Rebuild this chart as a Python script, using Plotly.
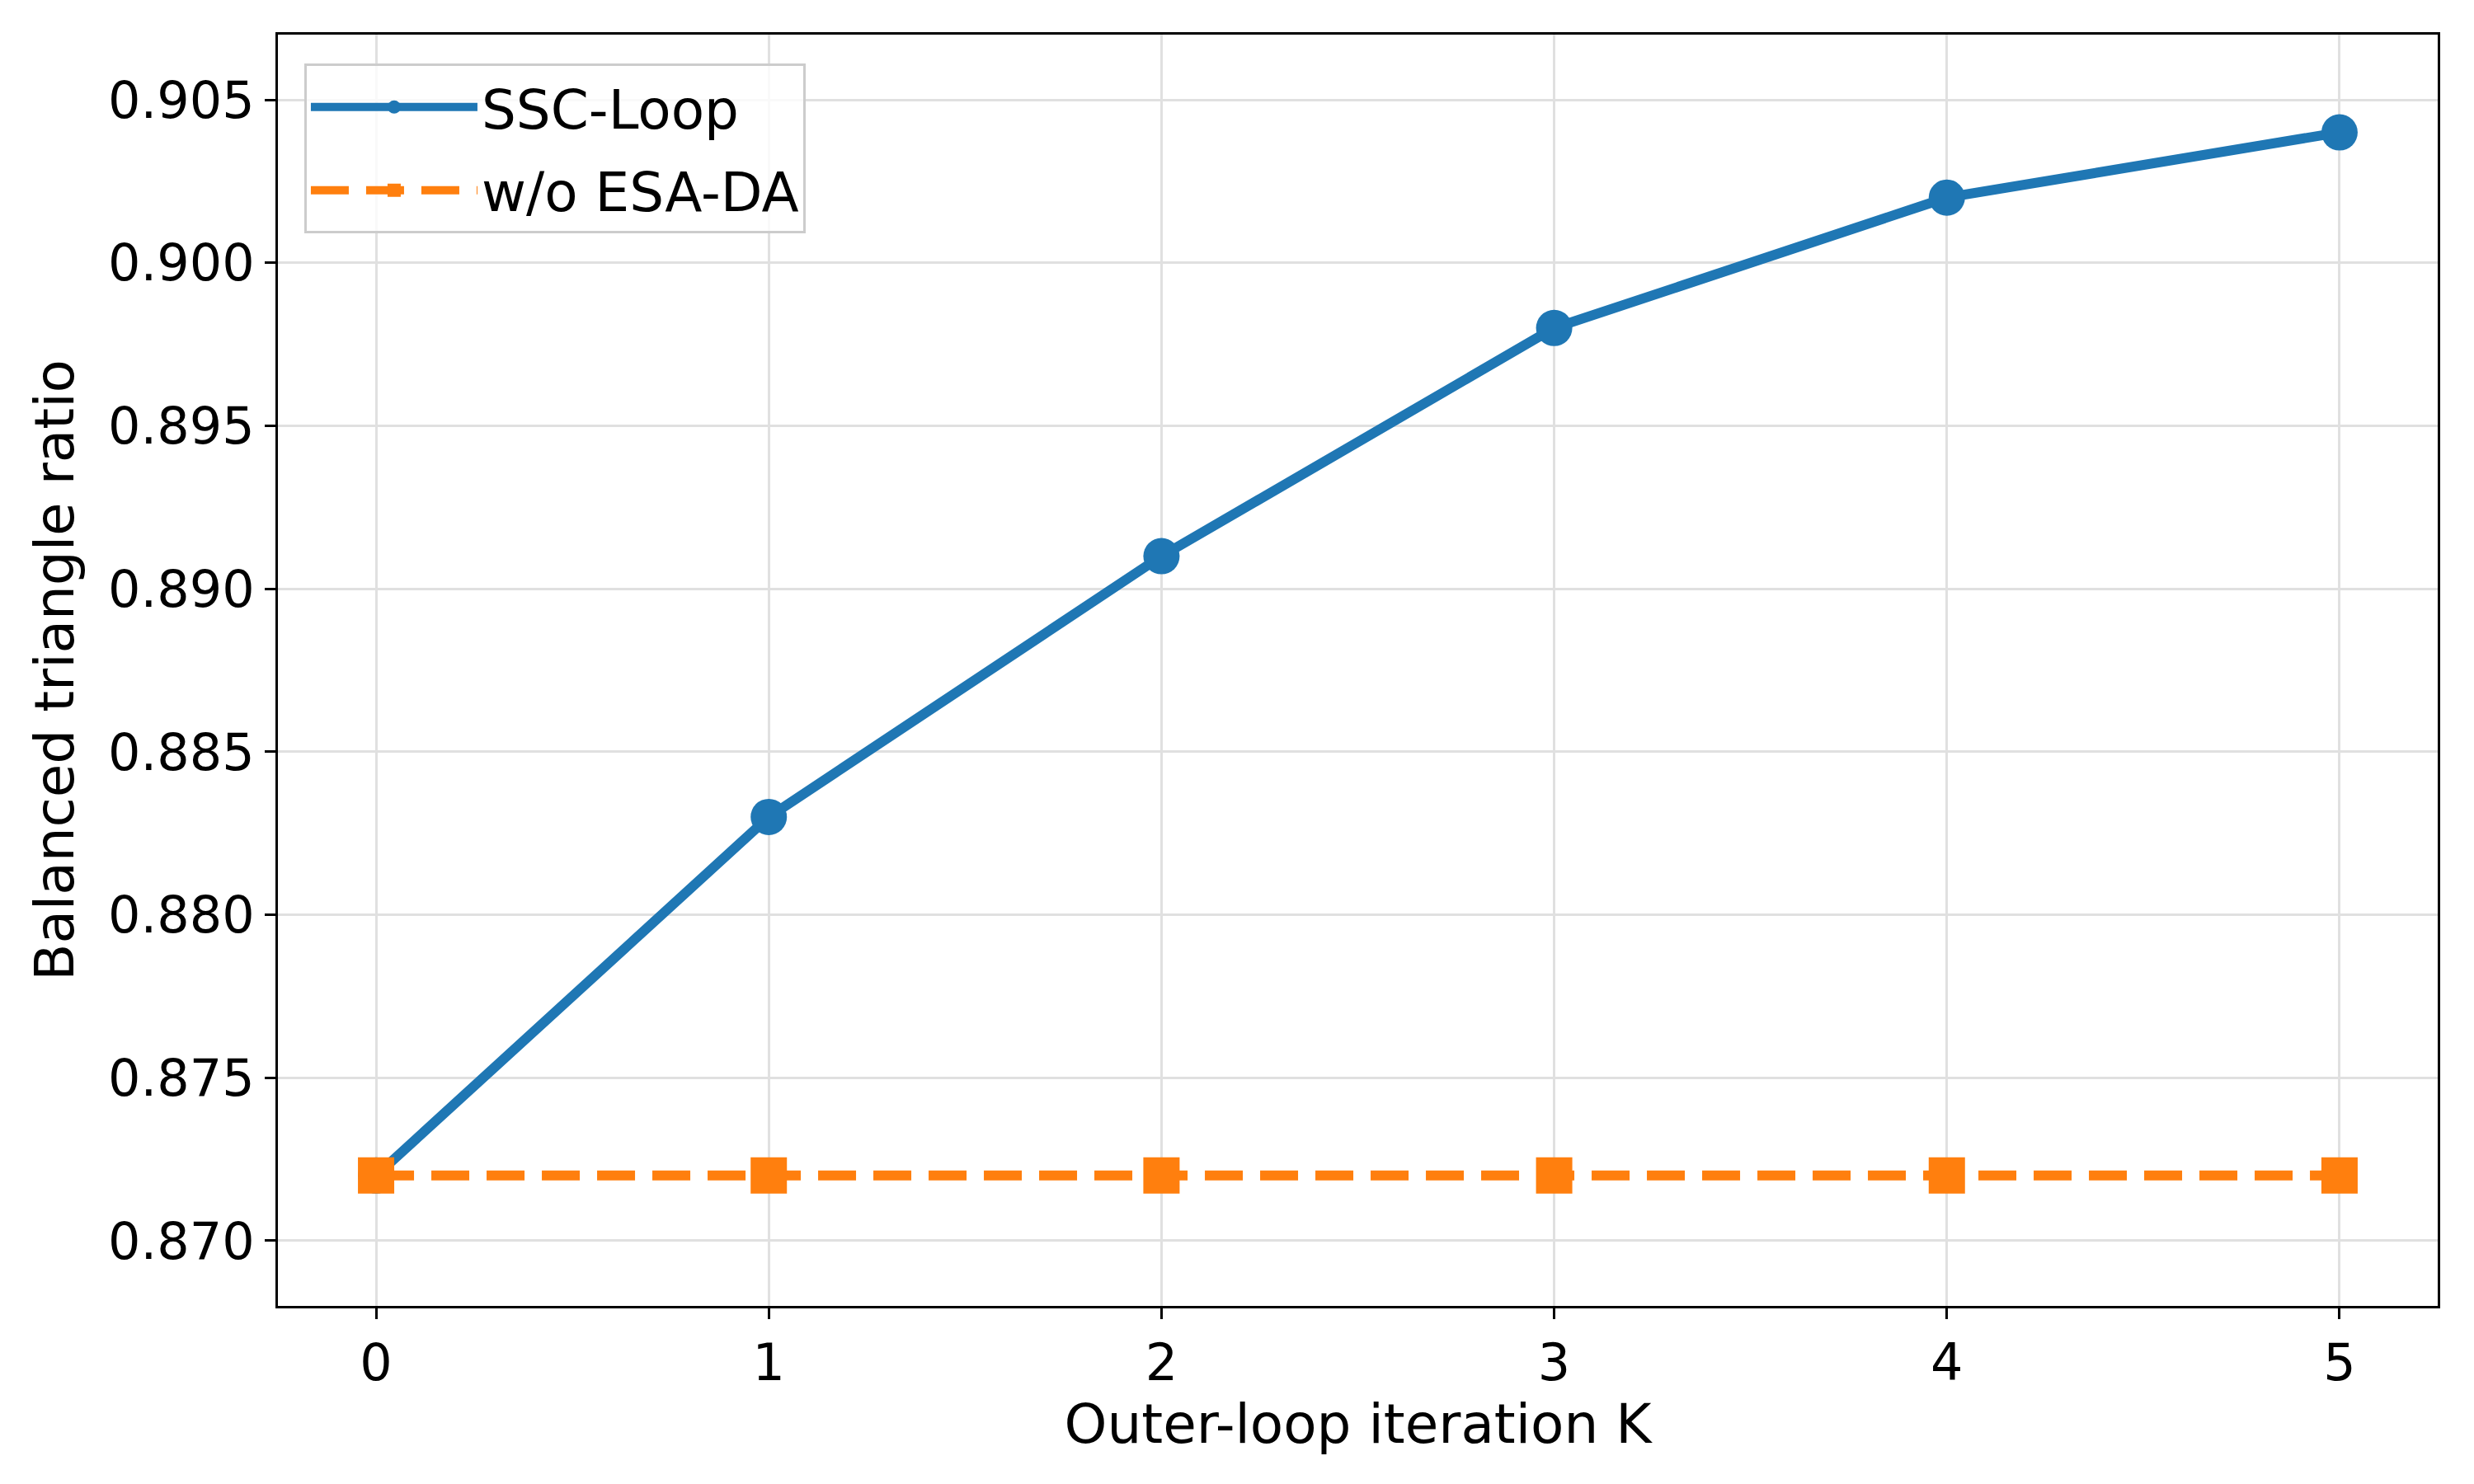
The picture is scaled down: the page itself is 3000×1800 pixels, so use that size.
import plotly.graph_objects as go

iterations = [0, 1, 2, 3, 4, 5]
ssc_loop = [0.872, 0.883, 0.891, 0.898, 0.902, 0.904]
wo_esa_da = [0.872, 0.872, 0.872, 0.872, 0.872, 0.872]
y_ticks = [0.870, 0.875, 0.880, 0.885, 0.890, 0.895, 0.900, 0.905]
x_ticks = [0, 1, 2, 3, 4, 5]

FONT = "DejaVu Sans"

fig = go.Figure()
fig.add_trace(go.Scatter(
    x=iterations, y=ssc_loop, mode="lines+markers", name="SSC-Loop",
    legendgroup="a",
    line=dict(color="#1f77b4", width=12),
    marker=dict(symbol="circle", size=44, color="#1f77b4"),
))
fig.add_trace(go.Scatter(
    x=iterations, y=wo_esa_da, mode="lines+markers", name="w/o ESA-DA",
    legendgroup="b",
    line=dict(color="#ff7f0e", width=12, dash="46px,21px"),
    marker=dict(symbol="square", size=44, color="#ff7f0e"),
))

axis_common = dict(
    showline=True, linecolor="black", linewidth=3, mirror=True,
    ticks="outside", ticklen=13, tickwidth=3, tickcolor="black",
    showgrid=True, gridcolor="#e0e0e0", gridwidth=3, zeroline=False,
    tickfont=dict(family=FONT, size=62, color="black"),
)

fig.update_xaxes(
    range=[-0.25, 5.25], tickvals=x_ticks, ticktext=[str(v) for v in x_ticks],
    title=dict(text="Outer-loop iteration K", font=dict(family=FONT, size=66, color="black"), standoff=2),
    **axis_common,
)
fig.update_yaxes(
    range=[0.868, 0.907], tickvals=y_ticks, ticktext=[f"{v:.3f}" for v in y_ticks],
    title=dict(text="Balanced triangle ratio", font=dict(family=FONT, size=66, color="black"), standoff=20),
    **axis_common,
)

fig.update_layout(
    width=3000, height=1800,
    margin=dict(l=337, r=44, t=42, b=216, autoexpand=False),
    paper_bgcolor="white", plot_bgcolor="white",
    font=dict(family=FONT, color="black"),
    legend=dict(
        x=0.0122, y=0.977, xanchor="left", yanchor="top",
        bgcolor="rgba(255,255,255,0.8)", bordercolor="#cccccc", borderwidth=3,
        font=dict(family=FONT, size=66, color="black"),
        itemwidth=202, tracegroupgap=12,
    ),
)

fig.write_html("out.html")
